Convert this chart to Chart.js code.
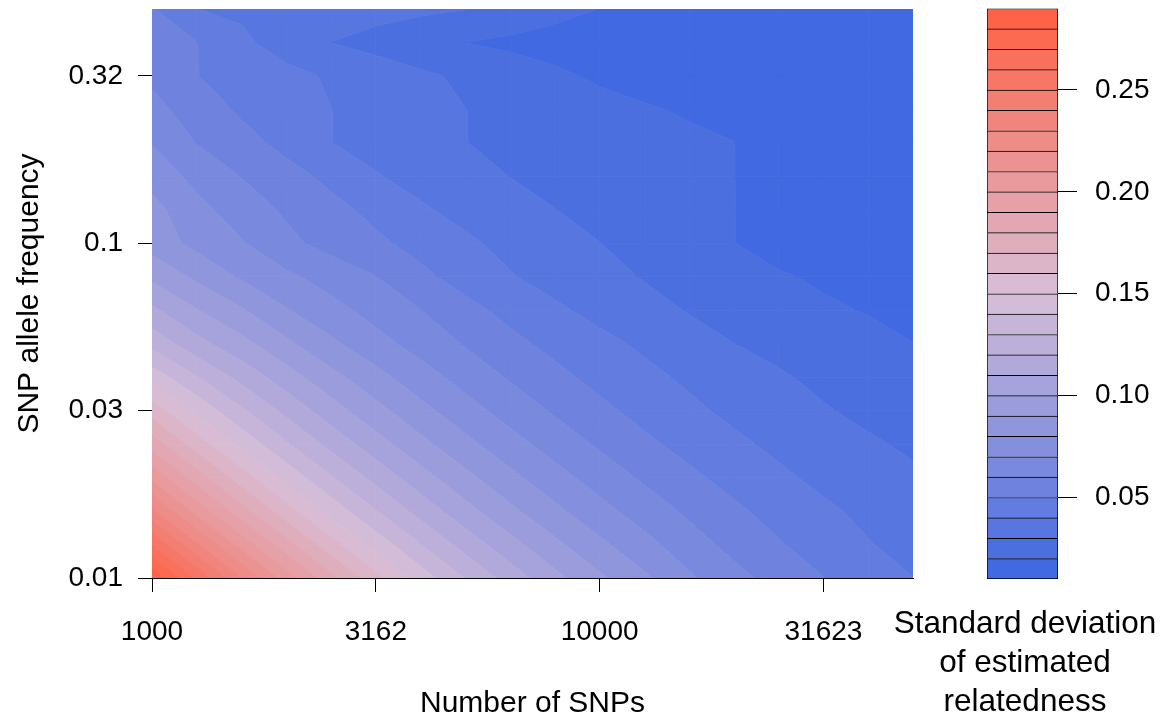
<!DOCTYPE html>
<html>
<head>
<meta charset="utf-8">
<script src="https://cdn.jsdelivr.net/npm/chart.js@4.4.1/dist/chart.umd.min.js"></script>
<style>
  html, body { margin: 0; padding: 0; background: #fff; }
  #wrap { position: relative; width: 1167px; height: 722px; overflow: hidden; }
  #main { position: absolute; left: 0; top: 0; }
  #key { position: absolute; left: 883px; top: 0; }
</style>
</head>
<body>
<div id="wrap">
  <canvas id="main" width="940" height="722"></canvas>
  <canvas id="key" width="284" height="722"></canvas>
</div>
<script>
var FONT = "'Liberation Sans', Arial, sans-serif";

// simulation grid: number of SNPs (columns) and allele frequency (rows), 0.1 steps in log10
var snpCounts = [1000, 1259, 1585, 1995, 2512, 3162, 3981, 5012, 6310, 7943,
  10000, 12589, 15849, 19953, 25119, 31623, 39811, 50119];
var alleleFreqs = [0.01, 0.0126, 0.0158, 0.02, 0.0251, 0.0316, 0.0398, 0.05, 0.0631, 0.0794,
  0.1, 0.126, 0.158, 0.2, 0.251, 0.316, 0.398, 0.501];

// SD of estimated relatedness, one row per allele frequency (lowest frequency first)
var sdRows = [
  [0.288, 0.2585, 0.2304, 0.2053, 0.1830, 0.1631, 0.1453, 0.1295, 0.1155, 0.1029, 0.0917, 0.0817, 0.0715, 0.0632, 0.0560, 0.0502, 0.0445, 0.0401],
  [0.2598, 0.2315, 0.2063, 0.1839, 0.1639, 0.1461, 0.1302, 0.1160, 0.1034, 0.0922, 0.0821, 0.0732, 0.0642, 0.0570, 0.0508, 0.0453, 0.0405, 0.0370],
  [0.2322, 0.2069, 0.1844, 0.1644, 0.1465, 0.1306, 0.1164, 0.1037, 0.0924, 0.0824, 0.0734, 0.0654, 0.0583, 0.0520, 0.0463, 0.0418, 0.0378, 0.0343],
  [0.2074, 0.1848, 0.1647, 0.1468, 0.1308, 0.1166, 0.1039, 0.0926, 0.0825, 0.0736, 0.0656, 0.0584, 0.0521, 0.0464, 0.0418, 0.0376, 0.0343, 0.0314],
  [0.1854, 0.1652, 0.1472, 0.1312, 0.1169, 0.1042, 0.0929, 0.0828, 0.0738, 0.0658, 0.0586, 0.0522, 0.0466, 0.0420, 0.0378, 0.0342, 0.0312, 0.0286],
  [0.1657, 0.1477, 0.1316, 0.1173, 0.1045, 0.0932, 0.0830, 0.0740, 0.0660, 0.0588, 0.0524, 0.0467, 0.0420, 0.0378, 0.0340, 0.0307, 0.0280, 0.0257],
  [0.1460, 0.1305, 0.1168, 0.1045, 0.0933, 0.0833, 0.0743, 0.0662, 0.0590, 0.0527, 0.0470, 0.0425, 0.0383, 0.0345, 0.0310, 0.0280, 0.0253, 0.0229],
  [0.1270, 0.1135, 0.1033, 0.0922, 0.0820, 0.0736, 0.0662, 0.0593, 0.0527, 0.0473, 0.0427, 0.0383, 0.0342, 0.0301, 0.0275, 0.0250, 0.0225, 0.0201],
  [0.1120, 0.1005, 0.0910, 0.0807, 0.0733, 0.0665, 0.0601, 0.0531, 0.0470, 0.0416, 0.0372, 0.0332, 0.0294, 0.0263, 0.0236, 0.0212, 0.0195, 0.0182],
  [0.0980, 0.0880, 0.0787, 0.0720, 0.0659, 0.0602, 0.0523, 0.0461, 0.0406, 0.0367, 0.0330, 0.0294, 0.0263, 0.0231, 0.0208, 0.0188, 0.0172, 0.0166],
  [0.0855, 0.0771, 0.0708, 0.0624, 0.0566, 0.0519, 0.0468, 0.0416, 0.0374, 0.0337, 0.0301, 0.0267, 0.0233, 0.0201, 0.0170, 0.0162, 0.0157, 0.0152],
  [0.0832, 0.0729, 0.0652, 0.0585, 0.0530, 0.0473, 0.0412, 0.0371, 0.0336, 0.0301, 0.0276, 0.0251, 0.0226, 0.0201, 0.0170, 0.0158, 0.0150, 0.0142],
  [0.0765, 0.0671, 0.0598, 0.0538, 0.0475, 0.0407, 0.0369, 0.0334, 0.0299, 0.0280, 0.0260, 0.0240, 0.0220, 0.0201, 0.0160, 0.0148, 0.0140, 0.0135],
  [0.0695, 0.0596, 0.0535, 0.0470, 0.0401, 0.0367, 0.0334, 0.0301, 0.0284, 0.0267, 0.0251, 0.0234, 0.0217, 0.0201, 0.0150, 0.0140, 0.0135, 0.0130],
  [0.0632, 0.0552, 0.0485, 0.0443, 0.0401, 0.0367, 0.0334, 0.0301, 0.0277, 0.0255, 0.0232, 0.0209, 0.0190, 0.0175, 0.0160, 0.0150, 0.0140, 0.0130],
  [0.0580, 0.0502, 0.0464, 0.0426, 0.0389, 0.0353, 0.0317, 0.0283, 0.0250, 0.0218, 0.0185, 0.0165, 0.0152, 0.0142, 0.0135, 0.0128, 0.0123, 0.0120],
  [0.0540, 0.0502, 0.0418, 0.0359, 0.0299, 0.0267, 0.0233, 0.0199, 0.0180, 0.0160, 0.0150, 0.0140, 0.0135, 0.0130, 0.0125, 0.0120, 0.0118, 0.0115],
  [0.0508, 0.0401, 0.0384, 0.0367, 0.0351, 0.0334, 0.0318, 0.0302, 0.0268, 0.0233, 0.0198, 0.0175, 0.0160, 0.0150, 0.0140, 0.0130, 0.0125, 0.0120]
];

// contour levels (also the boxes of the colour key)
var levels = [0.01, 0.02, 0.03, 0.04, 0.05, 0.06, 0.07, 0.08, 0.09, 0.10,
  0.11, 0.12, 0.13, 0.14, 0.15, 0.16, 0.17, 0.18, 0.19, 0.20,
  0.21, 0.22, 0.23, 0.24, 0.25, 0.26, 0.27, 0.28, 0.29];

var xTickValues = [1000, 3162.28, 10000, 31622.8];
var xTickLabels = ["1000", "3162", "10000", "31623"];
var yTickValues = [0.01, 0.0316228, 0.1, 0.316228];
var yTickLabels = ["0.01", "0.03", "0.1", "0.32"];
var keyTickValues = [0.05, 0.10, 0.15, 0.20, 0.25];
var keyTickLabels = ["0.05", "0.10", "0.15", "0.20", "0.25"];

/**
 * Linear RGB ramp royalblue -> thistle -> tomato, one colour per band.
 */
function rampColors(n) {
  var stops = [[65, 105, 225], [216, 191, 216], [255, 99, 71]];
  var out = [];
  for (var k = 0; k < n; k++) {
    var t = k / (n - 1) * (stops.length - 1);
    var s = Math.min(Math.floor(t), stops.length - 2);
    var u = t - s;
    var c = [];
    for (var m = 0; m < 3; m++) {
      c.push(Math.round(stops[s][m] + (stops[s + 1][m] - stops[s][m]) * u));
    }
    out.push("rgb(" + c.join(",") + ")");
  }
  return out;
}
var palette = rampColors(levels.length - 1);

/**
 * Walks the 4 edges of a grid cell and returns the polygon where lo <= z < hi
 * (linear interpolation along the edges, like R's filled.contour).
 */
function bandPolygon(c, lo, hi) {
  var pts = [];
  for (var e = 0; e < 4; e++) {
    var a = c[e], b = c[(e + 1) % 4];
    if (a[2] >= lo && a[2] < hi) pts.push([a[0], a[1]]);
    var cuts = [];
    [lo, hi].forEach(function (L) {
      if ((a[2] - L) * (b[2] - L) < 0) cuts.push((L - a[2]) / (b[2] - a[2]));
    });
    cuts.sort(function (p, q) { return p - q; });
    cuts.forEach(function (t) {
      pts.push([a[0] + (b[0] - a[0]) * t, a[1] + (b[1] - a[1]) * t]);
    });
  }
  return pts;
}

// Fills the contour bands cell by cell, positions come from the chart scales
var contourPlugin = {
  id: "contourFill",
  beforeDatasetsDraw: function (chart) {
    var xs = chart.scales.x, ys = chart.scales.y, ctx = chart.ctx, area = chart.chartArea;
    var px = snpCounts.map(function (v) { return xs.getPixelForValue(v); });
    var py = alleleFreqs.map(function (v) { return ys.getPixelForValue(v); });
    ctx.save();
    ctx.beginPath();
    ctx.rect(area.left, area.top, area.right - area.left, area.bottom - area.top);
    ctx.clip();
    ctx.lineJoin = "round";
    ctx.lineWidth = 0.8;
    for (var j = 0; j < alleleFreqs.length - 1; j++) {
      for (var i = 0; i < snpCounts.length - 1; i++) {
        var corners = [
          [px[i], py[j], sdRows[j][i]],
          [px[i + 1], py[j], sdRows[j][i + 1]],
          [px[i + 1], py[j + 1], sdRows[j + 1][i + 1]],
          [px[i], py[j + 1], sdRows[j + 1][i]]
        ];
        var zs = corners.map(function (q) { return q[2]; });
        var zmin = Math.min.apply(null, zs), zmax = Math.max.apply(null, zs);
        for (var b = 0; b < levels.length - 1; b++) {
          var lo = levels[b], hi = levels[b + 1];
          if (zmax < lo || zmin >= hi) continue;
          var pts = bandPolygon(corners, lo, hi);
          if (pts.length < 3) continue;
          ctx.beginPath();
          ctx.moveTo(pts[0][0], pts[0][1]);
          for (var k = 1; k < pts.length; k++) ctx.lineTo(pts[k][0], pts[k][1]);
          ctx.closePath();
          ctx.fillStyle = palette[b];
          ctx.strokeStyle = palette[b];
          ctx.fill();
          ctx.stroke();
        }
      }
    }
    ctx.restore();
  }
};

// no label overhang padding: the plot box is placed by the fixed axis sizes
function fixVertical(width) {
  return function (s) { s.width = width; s.paddingTop = 0; s.paddingBottom = 0; };
}
function fixHorizontal(height) {
  return function (s) { s.height = height; s.paddingLeft = 0; s.paddingRight = 0; };
}

var gridNodes = [];
for (var j = 0; j < alleleFreqs.length; j++) {
  for (var i = 0; i < snpCounts.length; i++) {
    gridNodes.push({ x: snpCounts[i], y: alleleFreqs[j] });
  }
}

var tickFont = { family: FONT, size: 28 };
var titleFont = { family: FONT, size: 30 };

new Chart(document.getElementById("main"), {
  type: "scatter",
  data: { datasets: [{ data: gridNodes, pointRadius: 0, pointHoverRadius: 0 }] },
  options: {
    responsive: false,
    animation: false,
    events: [],
    layout: { padding: { top: 9, right: 27, bottom: 0, left: 0 } },
    plugins: { legend: { display: false }, tooltip: { enabled: false } },
    scales: {
      x: {
        type: "logarithmic",
        min: 1000,
        max: 50119,
        afterBuildTicks: function (s) { s.ticks = xTickValues.map(function (v) { return { value: v }; }); },
        afterFit: fixHorizontal(144),
        ticks: {
          autoSkip: false, maxRotation: 0, color: "#000", font: tickFont, padding: 23,
          callback: function (v, i) { return xTickLabels[i]; }
        },
        grid: { drawOnChartArea: false, drawTicks: true, tickLength: 14, color: "#000" },
        border: { display: true, color: "#000", width: 1 },
        title: { display: true, text: "Number of SNPs", color: "#000", font: titleFont, padding: { top: 0, bottom: 0 } }
      },
      y: {
        type: "logarithmic",
        min: 0.01,
        max: 0.50119,
        afterBuildTicks: function (s) { s.ticks = yTickValues.map(function (v) { return { value: v }; }); },
        afterFit: fixVertical(152),
        ticks: {
          autoSkip: false, color: "#000", font: tickFont, padding: 15,
          callback: function (v, i) { return yTickLabels[i]; }
        },
        grid: { drawOnChartArea: false, drawTicks: true, tickLength: 14, color: "#000" },
        border: { display: true, color: "#000", width: 1 },
        title: { display: true, text: "SNP allele frequency", color: "#000", font: titleFont, padding: { top: 12, bottom: 0 } }
      }
    }
  },
  plugins: [contourPlugin]
});

// colour key: one floating bar per contour band
var keyDatasets = [];
for (var b = 0; b < levels.length - 1; b++) {
  keyDatasets.push({
    data: [[levels[b], levels[b + 1]]],
    xAxisID: "x",
    yAxisID: "y",
    backgroundColor: palette[b],
    borderColor: "#000",
    borderWidth: { top: 1, left: 1, right: 1, bottom: b === 0 ? 1 : 0 },
    borderSkipped: false,
    grouped: false,
    barPercentage: 1,
    categoryPercentage: 1
  });
}

new Chart(document.getElementById("key"), {
  type: "bar",
  data: { labels: [""], datasets: keyDatasets },
  options: {
    responsive: false,
    animation: false,
    events: [],
    layout: { padding: { top: 8.5, right: 0, bottom: 0, left: 0 } },
    plugins: {
      legend: { display: false },
      tooltip: { enabled: false },
      title: {
        display: true,
        position: "bottom",
        text: ["Standard deviation", "of estimated", "relatedness"],
        color: "#000",
        font: { family: FONT, size: 31.5, weight: "normal", lineHeight: 39 / 31.5 },
        padding: { top: 26, bottom: 0 }
      }
    },
    scales: {
      x: { display: false },
      y: {
        type: "linear",
        position: "right",
        min: 0.01,
        max: 0.29,
        afterBuildTicks: function (s) { s.ticks = keyTickValues.map(function (v) { return { value: v }; }); },
        afterFit: fixVertical(109),
        ticks: {
          color: "#000", font: tickFont, padding: 18,
          callback: function (v, i) { return keyTickLabels[i]; }
        },
        grid: { drawOnChartArea: false, drawTicks: true, tickLength: 19, color: "#000" },
        border: { display: false }
      },
      spacer: {
        type: "linear", axis: "y", position: "left", display: true,
        afterFit: fixVertical(104),
        ticks: { display: false },
        grid: { display: false },
        border: { display: false }
      }
    }
  }
});
</script>
</body>
</html>
